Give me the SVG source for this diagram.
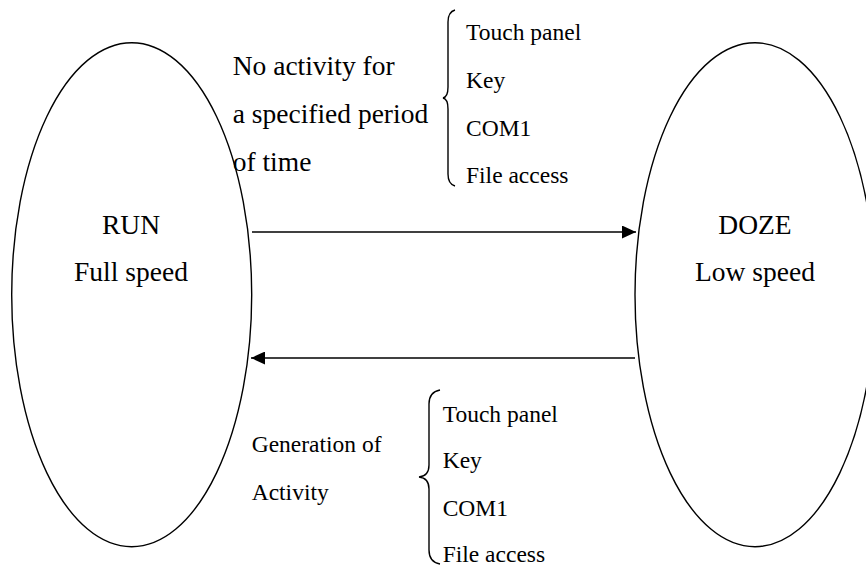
<svg xmlns="http://www.w3.org/2000/svg" width="866" height="565" viewBox="0 0 866 565">
<style>
.st{fill:none;stroke:#000;stroke-width:1.4}
.big{font-family:'Liberation Serif',Tinos,'Times New Roman',Times,serif;font-size:27.5px;fill:#000}
.sm{font-family:'Liberation Serif',Tinos,'Times New Roman',Times,serif;font-size:23.5px;fill:#000}
</style>
<defs>
<marker id="ah" viewBox="0 0 14 13" refX="14" refY="6.5" markerWidth="14" markerHeight="13" markerUnits="userSpaceOnUse" orient="auto">
<path d="M0,0 L14,6.5 L0,13 Z" fill="#000"/>
</marker>
</defs>
<rect width="866" height="565" fill="#fff"/>
<g id="run">
<ellipse class="st" cx="131.7" cy="294.7" rx="120" ry="252"/>
<text class="big" x="131" y="234" text-anchor="middle">RUN</text>
<text class="big" x="131" y="281" text-anchor="middle">Full speed</text>
</g>
<g id="doze">
<ellipse class="st" cx="755" cy="294.7" rx="120" ry="252"/>
<text class="big" x="755" y="234" text-anchor="middle">DOZE</text>
<text class="big" x="755" y="281" text-anchor="middle">Low speed</text>
</g>
<g id="connectors">
<line class="st" x1="252" y1="232" x2="636" y2="232" marker-end="url(#ah)"/>
<line class="st" x1="635" y1="358" x2="251" y2="358" marker-end="url(#ah)"/>
</g>
<g id="label-idle">
<text class="big" x="232.7" y="75">No activity for</text>
<text class="big" x="232.7" y="122.7">a specified period</text>
<text class="big" x="232.7" y="170.5">of time</text>
<path class="st" d="M455,10 Q448,12 448,22 L448,87 Q448,97 443,98 Q448,99 448,109 L448,174 Q448,184 455,186"/>
<text class="sm" x="466" y="40">Touch panel</text>
<text class="sm" x="466" y="88">Key</text>
<text class="sm" x="466" y="135.5">COM1</text>
<text class="sm" x="466" y="183.3">File access</text>
</g>
<g id="label-wake">
<text class="sm" x="251.7" y="451.7">Generation of</text>
<text class="sm" x="251.7" y="500">Activity</text>
<path class="st" d="M440,390 Q429,392 429,404 L429,465 Q429,476 419,477 Q429,478 429,489 L429,550 Q429,562 440,564"/>
<text class="sm" x="442.7" y="421.7">Touch panel</text>
<text class="sm" x="442.7" y="468.3">Key</text>
<text class="sm" x="442.7" y="515.7">COM1</text>
<text class="sm" x="442.7" y="561.7">File access</text>
</g>
</svg>
